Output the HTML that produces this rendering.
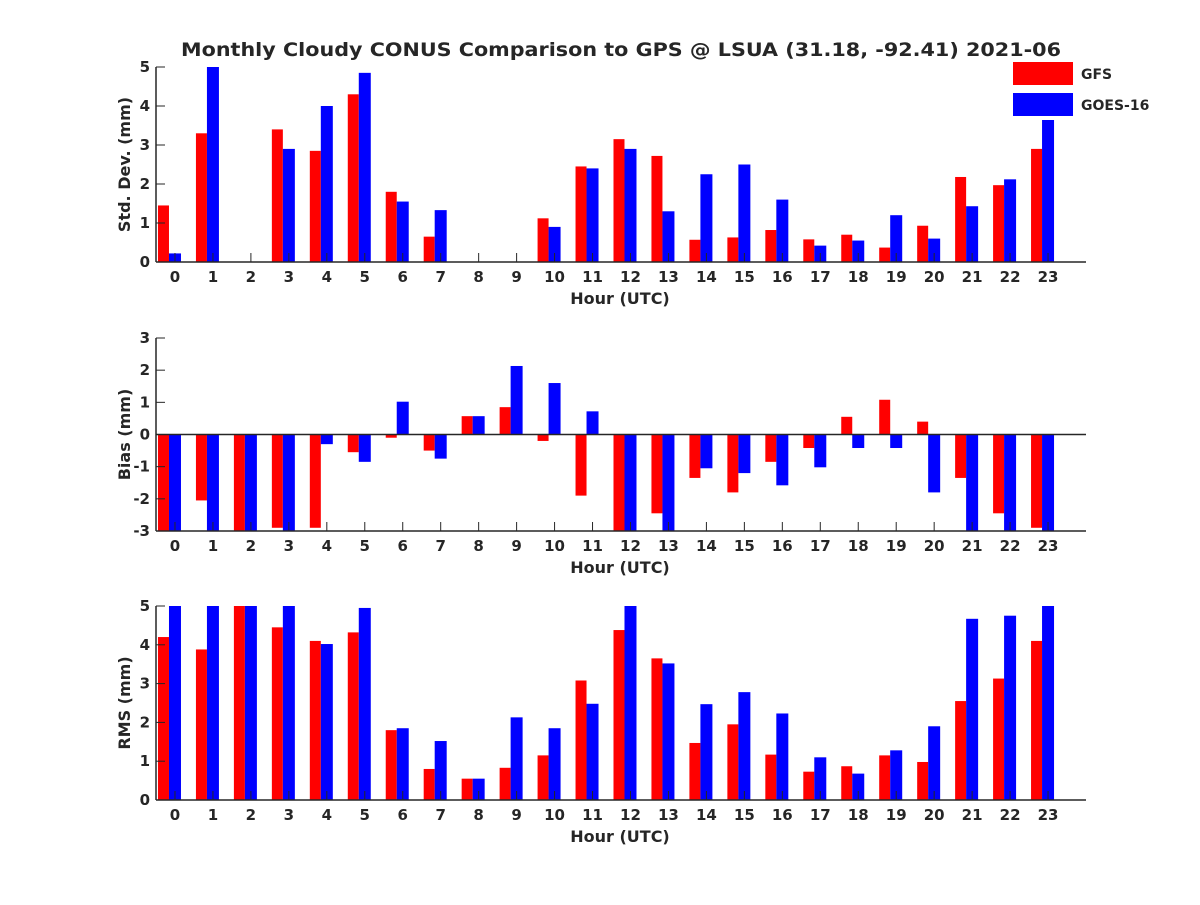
<!DOCTYPE html>
<html><head><meta charset="utf-8"><style>
body{margin:0;background:#fff}
svg text{font-family:"DejaVu Sans","Liberation Sans",sans-serif;font-weight:bold;fill:#262626}
</style></head><body>
<svg id="chart" width="1200" height="900" xmlns="http://www.w3.org/2000/svg">
<rect width="1200" height="900" fill="#fff"/>
<text x="621" y="56" font-size="19" text-anchor="middle" textLength="880" lengthAdjust="spacingAndGlyphs">Monthly Cloudy CONUS Comparison to GPS @ LSUA (31.18, -92.41) 2021-06</text>
</svg>
<script>
const hours=[0,1,2,3,4,5,6,7,8,9,10,11,12,13,14,15,16,17,18,19,20,21,22,23];
const stdGFS=[1.45,3.3,0,3.4,2.85,4.3,1.8,0.65,0,0,1.12,2.45,3.15,2.72,0.57,0.63,0.82,0.58,0.7,0.37,0.93,2.18,1.97,2.9];
const stdGOES=[0.22,5,0,2.9,4.0,4.85,1.55,1.33,0,0,0.9,2.4,2.9,1.3,2.25,2.5,1.6,0.42,0.55,1.2,0.6,1.43,2.12,4.1];
const biasGFS=[-3,-2.05,-3,-2.9,-2.9,-0.55,-0.1,-0.5,0.57,0.85,-0.2,-1.9,-3,-2.45,-1.35,-1.8,-0.85,-0.42,0.55,1.08,0.4,-1.35,-2.45,-2.9];
const biasGOES=[-3,-3,-3,-3,-0.3,-0.85,1.02,-0.75,0.57,2.13,1.6,0.72,-3,-3,-1.05,-1.2,-1.58,-1.02,-0.42,-0.42,-1.8,-3,-3,-3];
const rmsGFS=[4.2,3.88,5,4.45,4.1,4.32,1.8,0.8,0.55,0.83,1.15,3.08,4.38,3.65,1.47,1.95,1.17,0.73,0.87,1.15,0.98,2.55,3.13,4.1];
const rmsGOES=[5,5,5,5,4.02,4.95,1.85,1.52,0.55,2.13,1.85,2.48,5,3.52,2.47,2.78,2.23,1.1,0.68,1.28,1.9,4.67,4.75,5];
const stdTicks=[0,1,2,3,4,5], biasTicks=[-3,-2,-1,0,1,2,3], rmsTicks=[0,1,2,3,4,5];

const svg=document.getElementById('chart');
const NS='http://www.w3.org/2000/svg';
function mk(tag,attrs,parent){const e=document.createElementNS(NS,tag);for(const k in attrs)e.setAttribute(k,attrs[k]);(parent||svg).appendChild(e);return e;}
const X0=156,X1=1086;
const xs=h=>X0+(h+0.5)*(X1-X0)/24.5;

function panel(name,top,bottom,ymin,ymax,ticks,ylabel,g1,g2){
  const g=mk('g',{});
  
  
  const ys=v=>bottom-(Math.max(ymin,Math.min(ymax,v))-ymin)/(ymax-ymin)*(bottom-top);
  const base=ys(Math.max(ymin,0));
  hours.forEach((h,i)=>{
    const c=xs(h);
    const a=ys(g1[i]), b=ys(g2[i]);
    const r1=mk('rect',{x:c-17,y:Math.min(a,base),width:11,height:Math.abs(base-a),fill:'#ff0000'},g);
    
    
    const r2=mk('rect',{x:c-6,y:Math.min(b,base),width:12,height:Math.abs(base-b),fill:'#0000ff'},g);
    
    
    mk('line',{x1:c,x2:c,y1:bottom,y2:bottom-9,stroke:'#262626','stroke-width':1},g);
    const t=mk('text',{x:c,y:bottom+20,'font-size':15,'text-anchor':'middle'},g);
    t.textContent=h;
    
    
  });
  if(ymin<0&&ymax>0) mk('line',{x1:X0,x2:X1,y1:base,y2:base,stroke:'#262626','stroke-width':1.5},g);
  ticks.forEach(v=>{
    const y=ys(v);
    mk('line',{x1:X0,x2:X0+9,y1:y,y2:y,stroke:'#262626','stroke-width':1},g);
    const t=mk('text',{x:X0-6,y:y+5,'font-size':15,'text-anchor':'end'},g);
    t.textContent=v;
    
    
  });
  mk('line',{x1:X0,x2:X1,y1:bottom,y2:bottom,stroke:'#262626','stroke-width':1.5},g);
  mk('line',{x1:X0,x2:X0,y1:top,y2:bottom,stroke:'#262626','stroke-width':1.5},g);
  const xl=mk('text',{x:620,y:bottom+42,'font-size':16,'text-anchor':'middle'},g);
  xl.textContent='Hour (UTC)';
  
  
  const my=(top+bottom)/2;
  const yl=mk('text',{x:130,y:my,'font-size':16,'text-anchor':'middle',transform:`rotate(-90 130 ${my})`},g);
  yl.textContent=ylabel;
  
  
}
panel('std',67,262,0,5,stdTicks,'Std. Dev. (mm)',stdGFS,stdGOES);
panel('bias',338,531,-3,3,biasTicks,'Bias (mm)',biasGFS,biasGOES);
panel('rms',606,800,0,5,rmsTicks,'RMS (mm)',rmsGFS,rmsGOES);

const lg=mk('g',{});


mk('rect',{x:1006,y:58,width:160,height:62,fill:'#fff'},lg);
mk('rect',{x:1013,y:62,width:60,height:23,fill:'#ff0000'},lg);
mk('rect',{x:1013,y:93,width:60,height:23,fill:'#0000ff'},lg);
const l1=mk('text',{x:1081,y:79,'font-size':14},lg);l1.textContent='GFS';


const l2=mk('text',{x:1081,y:110,'font-size':14},lg);l2.textContent='GOES-16';


</script>
</body></html>
